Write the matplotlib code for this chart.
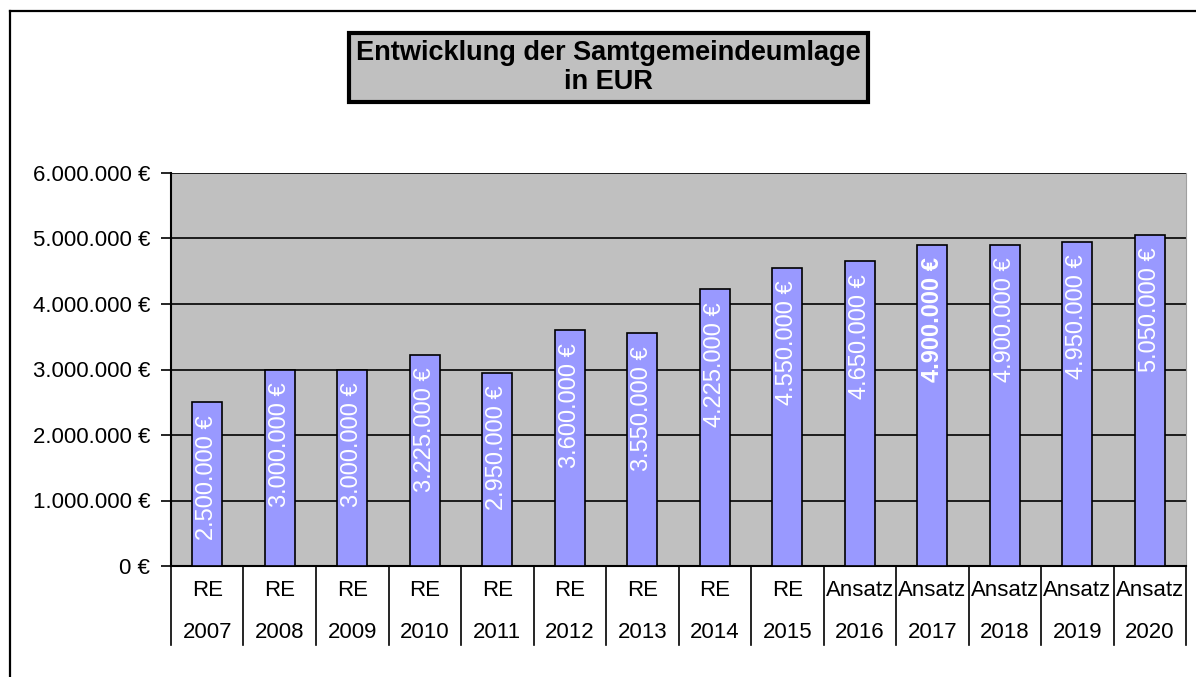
import matplotlib
matplotlib.use("Agg")
import matplotlib.pyplot as plt
from matplotlib.lines import Line2D
import matplotlib.transforms as mtransforms

plt.rcParams['font.family'] = ['Liberation Sans', 'DejaVu Sans']

kinds = ["RE"] * 9 + ["Ansatz"] * 5
years = ["2007", "2008", "2009", "2010", "2011", "2012", "2013", "2014",
         "2015", "2016", "2017", "2018", "2019", "2020"]
values = [2500000, 3000000, 3000000, 3225000, 2950000, 3600000, 3550000,
          4225000, 4550000, 4650000, 4900000, 4900000, 4950000, 5050000]
bold_year = "2017"
yticks = [0, 1000000, 2000000, 3000000, 4000000, 5000000, 6000000]
title = "Entwicklung der Samtgemeindeumlage\nin EUR"


def euro(v):
    return f"{v:,.0f} €".replace(",", ".")


W, H = 1196, 677
fig = plt.figure(figsize=(W / 100, H / 100), dpi=100)
fig.patch.set_facecolor("white")

# outer frame (left and top visible)
fig.add_artist(Line2D([10 / W, 10 / W], [0, 1 - 11 / H], color="black", lw=1.6,
                      transform=fig.transFigure))
fig.add_artist(Line2D([10 / W, 1], [1 - 11 / H, 1 - 11 / H], color="black", lw=1.6,
                      transform=fig.transFigure))

left, right, bottom, top = 171 / W, 1186 / W, 1 - 566 / H, 1 - 173 / H
ax = fig.add_axes([left, bottom, right - left, top - bottom])
ax.set_facecolor("#C0C0C0")

x = list(range(len(values)))
bars = ax.bar(x, values, width=0.41, color="#9999FF", edgecolor="black", linewidth=1.2, zorder=3)

ax.set_xlim(-0.5, len(values) - 0.5)
ax.set_ylim(0, 6000000)
ax.set_yticks(yticks)
ax.set_yticklabels([euro(v) for v in yticks], fontsize=16)
ax.yaxis.grid(True, color="black", lw=1.2, zorder=1)
ax.set_axisbelow(True)
ax.tick_params(axis="y", direction="out", length=7, width=1.2, pad=8)
ax.set_xticks([])
ax.spines["top"].set_visible(False)
ax.spines["right"].set_color("#A0A0A0")
ax.spines["left"].set_linewidth(1.5)
ax.spines["bottom"].set_linewidth(1.5)

# bar value labels
for xi, v, yr in zip(x, values, years):
    ax.annotate(euro(v), xy=(xi, v), xytext=(0, -9), textcoords="offset points",
                rotation=90, ha="center", va="top", color="white", fontsize=17,
                fontweight="bold" if yr == bold_year else "normal", zorder=4)

# category table below axis
trans = mtransforms.blended_transform_factory(ax.transData, ax.transAxes)
for xi, k, yr in zip(x, kinds, years):
    ax.text(xi, -0.062, k, transform=trans, ha="center", va="center", fontsize=16)
    ax.text(xi, -0.17, yr, transform=trans, ha="center", va="center", fontsize=16)
for b in range(len(values) + 1):
    ax.add_line(Line2D([b - 0.5, b - 0.5], [0, -0.201], transform=trans, color="black",
                       lw=1.2, clip_on=False))

fig.text(608.5 / W, 1 - 67.5 / H, title, ha="center", va="center", fontsize=19.5,
         fontweight="bold", linespacing=1.15,
         bbox=dict(boxstyle="square,pad=0.25", facecolor="#C0C0C0", edgecolor="black", lw=3))

fig.savefig("out.png", dpi=100)
